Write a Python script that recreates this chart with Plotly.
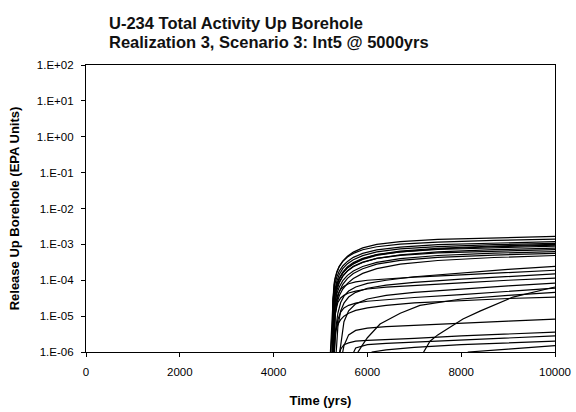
import plotly.graph_objects as go

# Release up the borehole (EPA units) versus time (yrs)
# Early-onset upper band: shared time grid, one row per realization vector
upper_times = [5200, 5250, 5265, 5285, 5310, 5350, 5400, 5475, 5575, 5700, 5900, 6200, 6700, 7500, 8700, 10000]
upper_release = [
    [5e-7, 5e-7, 3.0e-5, 6.5e-5, 1.05e-4, 1.65e-4, 2.4e-4, 3.4e-4, 4.7e-4, 6.1e-4, 8.0e-4, 1.0e-3, 1.19e-3, 1.37e-3, 1.53e-3, 1.67e-3],
    [5e-7, 1.8e-5, 4.0e-5, 7.5e-5, 1.15e-4, 1.75e-4, 2.45e-4, 3.35e-4, 4.45e-4, 5.6e-4, 7.1e-4, 8.6e-4, 1.01e-3, 1.16e-3, 1.29e-3, 1.4e-3],
    [5e-7, 5e-7, 2.6e-5, 5.2e-5, 8.2e-5, 1.25e-4, 1.8e-4, 2.5e-4, 3.35e-4, 4.35e-4, 5.6e-4, 7.0e-4, 8.4e-4, 9.8e-4, 1.1e-3, 1.2e-3],
    [5e-7, 5e-7, 6.4e-6, 3.0e-5, 5.6e-5, 9.6e-5, 1.45e-4, 2.1e-4, 2.9e-4, 3.75e-4, 4.85e-4, 6.2e-4, 7.5e-4, 8.7e-4, 9.8e-4, 1.07e-3],
    [5e-7, 5e-7, 9e-6, 2.5e-5, 4.4e-5, 7.6e-5, 1.1e-4, 1.6e-4, 2.25e-4, 2.95e-4, 3.95e-4, 5.2e-4, 6.5e-4, 7.8e-4, 9.0e-4, 1.0e-3],
    [5e-7, 4e-6, 1.5e-5, 3.1e-5, 4.8e-5, 7.8e-5, 1.1e-4, 1.58e-4, 2.2e-4, 2.85e-4, 3.8e-4, 4.95e-4, 6.2e-4, 7.45e-4, 8.6e-4, 9.5e-4],
    [5e-7, 5e-7, 5e-7, 1.5e-5, 3.9e-5, 7.4e-5, 1.15e-4, 1.7e-4, 2.4e-4, 3.1e-4, 4.1e-4, 5.15e-4, 6.2e-4, 7.2e-4, 8.1e-4, 8.9e-4],
    [5e-7, 5e-7, 1.0e-5, 2.3e-5, 3.8e-5, 6.3e-5, 9.0e-5, 1.3e-4, 1.8e-4, 2.37e-4, 3.12e-4, 4.05e-4, 5.1e-4, 6.15e-4, 7.1e-4, 7.9e-4],
    [5e-7, 5e-7, 5e-7, 4.3e-6, 2.3e-5, 5.2e-5, 8.5e-5, 1.3e-4, 1.85e-4, 2.45e-4, 3.2e-4, 4.05e-4, 4.95e-4, 5.8e-4, 6.5e-4, 7.1e-4],
    [5e-7, 5e-7, 5e-7, 1.1e-5, 2.4e-5, 4.3e-5, 6.5e-5, 9.7e-5, 1.37e-4, 1.82e-4, 2.42e-4, 3.15e-4, 4.0e-4, 4.9e-4, 5.68e-4, 6.3e-4],
    [5e-7, 5e-7, 5e-7, 5e-7, 1.0e-5, 2.7e-5, 4.8e-5, 7.7e-5, 1.13e-4, 1.55e-4, 2.1e-4, 2.8e-4, 3.58e-4, 4.35e-4, 5.04e-4, 5.6e-4],
    [5e-7, 5e-7, 5e-7, 3.4e-6, 1.0e-5, 2.3e-5, 3.7e-5, 5.7e-5, 8.2e-5, 1.12e-4, 1.55e-4, 2.1e-4, 2.8e-4, 3.55e-4, 4.3e-4, 4.9e-4],
]

# Middle and lower band
lower_times = [5250, 5280, 5320, 5370, 5430, 5500, 5600, 5750, 6000, 6400, 7000, 8000, 9000, 10000]
lower_release = [
    [5e-7, 5e-7, 4e-6, 1.2e-5, 2.4e-5, 3.6e-5, 5.0e-5, 6.5e-5, 8.2e-5, 1.0e-4, 1.25e-4, 1.6e-4, 2.0e-4, 2.45e-4],
    [5e-7, 6e-6, 2.2e-5, 4.0e-5, 5.6e-5, 6.8e-5, 8.0e-5, 9.0e-5, 1.0e-4, 1.1e-4, 1.22e-4, 1.42e-4, 1.65e-4, 1.9e-4],
    [5e-7, 5e-7, 5e-7, 5e-6, 1.4e-5, 2.3e-5, 3.4e-5, 4.6e-5, 6.0e-5, 7.3e-5, 8.7e-5, 1.07e-4, 1.28e-4, 1.5e-4],
    [5e-7, 3e-6, 1.3e-5, 2.4e-5, 3.2e-5, 3.8e-5, 4.4e-5, 5.0e-5, 5.7e-5, 6.4e-5, 7.2e-5, 8.5e-5, 1.0e-4, 1.15e-4],
    [5e-7, 5e-7, 5e-7, 5e-7, 1.5e-6, 7e-6, 1.4e-5, 2.2e-5, 3.0e-5, 3.8e-5, 4.6e-5, 5.8e-5, 7.0e-5, 8.3e-5],
    [5e-7, 5e-7, 3e-6, 8e-6, 1.3e-5, 1.7e-5, 2.0e-5, 2.3e-5, 2.6e-5, 2.9e-5, 3.3e-5, 4.0e-5, 4.9e-5, 6.0e-5],
    [5e-7, 2e-6, 4e-6, 6e-6, 8e-6, 1.0e-5, 1.2e-5, 1.45e-5, 1.7e-5, 2.0e-5, 2.35e-5, 2.75e-5, 3.1e-5, 3.4e-5],
    [5e-7, 5e-7, 5e-7, 5e-7, 5e-7, 1.5e-6, 3e-6, 4e-6, 4.6e-6, 5.1e-6, 5.6e-6, 6.4e-6, 7.3e-6, 8.3e-6],
    [5e-7, 5e-7, 5e-7, 5e-7, 1.2e-6, 1.6e-6, 1.8e-6, 2.0e-6, 2.1e-6, 2.2e-6, 2.4e-6, 2.8e-6, 3.2e-6, 3.6e-6],
    [5e-7, 5e-7, 5e-7, 5e-7, 5e-7, 5e-7, 5e-7, 1.3e-6, 1.6e-6, 1.75e-6, 1.9e-6, 2.2e-6, 2.5e-6, 2.8e-6],
]

# Late-onset vectors, each on its own time grid
late_a_times = [5750, 5800, 5900, 6000, 6270, 6700, 7120, 8000, 9000, 10000]
late_a_release = [5e-7, 1.0e-6, 1.6e-6, 2.5e-6, 6e-6, 1.2e-5, 2.0e-5, 3.0e-5, 3.8e-5, 4.6e-5]

late_b_times = [7100, 7150, 7200, 7335, 7500, 7697, 8038, 8400, 9104, 10000]
late_b_release = [5e-7, 5e-7, 1.0e-6, 2.0e-6, 3.0e-6, 4.4e-6, 8.3e-6, 1.38e-5, 3.4e-5, 6.5e-5]

late_c_times = [6050, 6100, 6400, 7000, 8000, 9000, 10000]
late_c_release = [5e-7, 1.0e-6, 1.15e-6, 1.35e-6, 1.6e-6, 1.8e-6, 2.0e-6]

late_d_times = [8000, 8150, 9000, 10000]
late_d_release = [5e-7, 1.0e-6, 1.2e-6, 1.5e-6]

# Axis ticks
time_ticks = [0, 2000, 4000, 6000, 8000, 10000]
release_ticks = [1e2, 1e1, 1e0, 1e-1, 1e-2, 1e-3, 1e-4, 1e-5, 1e-6]
release_tick_text = ["1.E+02", "1.E+01", "1.E+00", "1.E-01", "1.E-02", "1.E-03", "1.E-04", "1.E-05", "1.E-06"]

title_lines = ["U-234 Total Activity Up Borehole", "Realization 3, Scenario 3: Int5 @ 5000yrs"]

LINE = dict(color="black", width=1.2)

fig = go.Figure()


def add_curve(x, y):
    fig.add_trace(go.Scatter(x=x, y=y, mode="lines", line=LINE,
                             showlegend=False, hoverinfo="skip"))


for vals in upper_release:
    add_curve(upper_times, vals)
for vals in lower_release:
    add_curve(lower_times, vals)
add_curve(late_a_times, late_a_release)
add_curve(late_b_times, late_b_release)
add_curve(late_c_times, late_c_release)
add_curve(late_d_times, late_d_release)

# Two-line title, left aligned above the plot
for i, line in enumerate(title_lines):
    fig.add_annotation(
        text=line, xref="paper", yref="paper",
        x=(107 - 86) / (576 - 86 - 21), xanchor="left",
        y=1 + (65 - (23 + 19 * i)) / (412 - 65 - 60), yanchor="middle",
        showarrow=False, font=dict(size=16.5, weight="bold", color="#111"),
    )

fig.update_layout(
    width=576, height=412,
    margin=dict(l=86, r=21, t=65, b=60),
    paper_bgcolor="white", plot_bgcolor="white",
    font=dict(family="Arial, Liberation Sans, sans-serif", color="black"),
    xaxis=dict(
        range=[0, 10000], tickvals=time_ticks, ticktext=[str(t) for t in time_ticks],
        showline=True, linecolor="black", linewidth=1.2, mirror=True,
        ticks="outside", ticklen=4, tickcolor="black",
        showgrid=False, zeroline=False, automargin=False,
        tickfont=dict(size=11.5), ticklabelstandoff=5,
        title=dict(text="Time (yrs)", font=dict(size=13, weight="bold"), standoff=18),
    ),
    yaxis=dict(
        type="log", range=[-6, 2], tickvals=release_ticks, ticktext=release_tick_text,
        showline=True, linecolor="black", linewidth=1.2, mirror=True,
        ticks="outside", ticklen=4, tickcolor="black",
        showgrid=False, zeroline=False, automargin=False,
        tickfont=dict(size=11.5), ticklabelstandoff=5,
        title=dict(text="Release Up Borehole (EPA Units)", font=dict(size=13, weight="bold"), standoff=14),
    ),
)

fig.write_html("out.html")
